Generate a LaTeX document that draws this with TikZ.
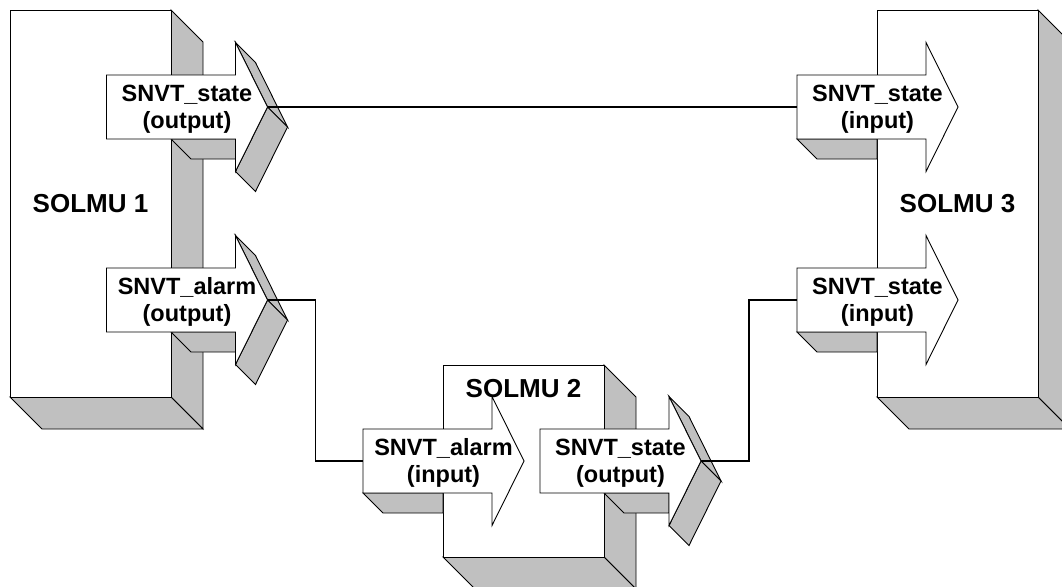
\documentclass[tikz,border=0pt]{standalone}
\usepackage{fontspec}
\setmainfont{Liberation Sans}
\definecolor{facegray}{RGB}{192,192,192}
\tikzset{
  face/.style={draw=black, line width=0.9pt, fill=white},
  shade/.style={draw=black, line width=0.9pt, fill=facegray},
  wire/.style={draw=black, line width=1.5pt},
  sigtext/.style={font=\bfseries\fontsize{23.5}{27.5}\selectfont, align=center, inner sep=0pt},
  unittext/.style={font=\bfseries\fontsize{26}{30}\selectfont, inner sep=0pt},
}
% 3D unit block: front face (x1,y1)-(x2,y2), extruded 32 down-right
\newcommand{\unitblock}[4]{%
  \path[shade] (#3,#2) -- ++(32,32) -- (#3+32,#4+32) -- (#3,#4) -- cycle;
  \path[shade] (#1,#4) -- (#3,#4) -- (#3+32,#4+32) -- (#1+32,#4+32) -- cycle;
  \path[face] (#1,#2) rectangle (#3,#4);
}
% arrow outline: body from x=#1 (length 129, half height 32), head 32 long, half height 64.5
\newcommand{\arrowfront}[2]{%
  \path[face] (#1,#2-32) -- (#1+129,#2-32) -- (#1+129,#2-64.5) -- (#1+161,#2)
    -- (#1+129,#2+64.5) -- (#1+129,#2+32) -- (#1,#2+32) -- cycle;
}
% output variable: name, left x, centre y, right edge of its block, text
\newcommand{\outvar}[5]{%
  \path[shade] (#4,#3+32) -- (#2+129,#3+32) -- (#2+129,#3+52) -- (#4+20,#3+52) -- cycle;
  \path[shade] (#2+129,#3-64.5) -- (#2+161,#3) -- (#2+181,#3+20) -- (#2+149,#3-44.5) -- cycle;
  \path[shade] (#2+161,#3) -- (#2+129,#3+64.5) -- (#2+149,#3+84.5) -- (#2+181,#3+20) -- cycle;
  \arrowfront{#2}{#3}
  \node[sigtext] (#1) at (#2+80.5,#3+2) {#5};
  \coordinate (#1-tip) at (#2+161,#3);
}
% input variable: name, left x, centre y, left edge of its block, text
\newcommand{\invar}[5]{%
  \path[shade] (#2,#3+32) -- (#2+20,#3+52) -- (#4,#3+52) -- (#4,#3+32) -- cycle;
  \arrowfront{#2}{#3}
  \node[sigtext] (#1) at (#2+80.5,#3+2) {#5};
  \coordinate (#1-in) at (#2,#3);
}
\begin{document}
\begin{tikzpicture}[x=1pt, y=-1pt]
  \useasboundingbox (0,0) rectangle (1062,586);
  \clip (0,0) rectangle (1062,586);

  % SOLMU 1
  \unitblock{10}{10}{171}{397}
  \outvar{s1}{106.5}{107}{171}{SNVT\_state\\(output)}
  \outvar{a1}{106.5}{300}{171}{SNVT\_alarm\\(output)}
  \node[unittext] (u1) at (90.5,203.5) {SOLMU 1};

  % SOLMU 3
  \unitblock{877}{10}{1038}{397}
  \invar{s3a}{797}{107}{877}{SNVT\_state\\(input)}
  \invar{s3b}{797}{300}{877}{SNVT\_state\\(input)}
  \node[unittext] (u3) at (957.5,203.5) {SOLMU 3};

  % SOLMU 2
  \unitblock{443}{365}{604}{557}
  \invar{a2}{363}{461}{443}{SNVT\_alarm\\(input)}
  \outvar{s2}{540}{461}{604}{SNVT\_state\\(output)}
  \node[unittext] (u2) at (523.5,388.5) {SOLMU 2};

  % bindings between network variables
  \draw[wire] (s1-tip) -- (s3a-in);
  \draw[wire] (a1-tip) -- ++(48,0) |- (a2-in);
  \draw[wire] (s2-tip) -- ++(48,0) |- (s3b-in);
\end{tikzpicture}
\end{document}
